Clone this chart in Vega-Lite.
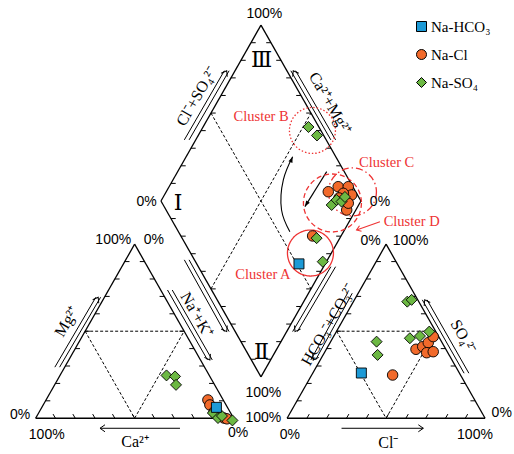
{
  "$schema": "https://vega.github.io/schema/vega-lite/v6.json",
  "width": 514,
  "height": 454,
  "padding": 0,
  "autosize": {"type": "none"},
  "background": "white",
  "config": {
    "view": {"stroke": null}
  },
  "resolve": {"scale": {"size": "independent", "strokeDash": "independent"}},
  "datasets": {
    "outlines": [
      {"x": 0, "y": 0, "x2": 100, "y2": 0},
      {"x": 0, "y": 0, "x2": 50, "y2": 86.6},
      {"x": 100, "y": 0, "x2": 50, "y2": 86.6},
      {"x": 127, "y": 0, "x2": 227, "y2": 0},
      {"x": 127, "y": 0, "x2": 177, "y2": 86.6},
      {"x": 227, "y": 0, "x2": 177, "y2": 86.6},
      {"x": 113.8, "y": 20.6, "x2": 63.3, "y2": 108.1},
      {"x": 63.3, "y": 108.1, "x2": 113.8, "y2": 195.6},
      {"x": 113.8, "y": 195.6, "x2": 164.3, "y2": 108.1},
      {"x": 164.3, "y": 108.1, "x2": 113.8, "y2": 20.6}
    ],
    "dashed": [
      {"x": 25, "y": 43.3, "x2": 75, "y2": 43.3},
      {"x": 25, "y": 43.3, "x2": 50, "y2": 0},
      {"x": 50, "y": 0, "x2": 75, "y2": 43.3},
      {"x": 152, "y": 43.3, "x2": 202, "y2": 43.3},
      {"x": 152, "y": 43.3, "x2": 177, "y2": 0},
      {"x": 177, "y": 0, "x2": 202, "y2": 43.3},
      {"x": 88.55, "y": 151.85, "x2": 139.05, "y2": 64.35},
      {"x": 88.55, "y": 64.35, "x2": 139.05, "y2": 151.85}
    ],
    "ticks": [
      {"x": 5, "y": 8.66, "d": "r"}, {"x": 10, "y": 17.32, "d": "r"}, {"x": 15, "y": 25.98, "d": "r"}, {"x": 20, "y": 34.64, "d": "r"}, {"x": 25, "y": 43.3, "d": "r"}, {"x": 30, "y": 51.96, "d": "r"}, {"x": 35, "y": 60.62, "d": "r"}, {"x": 40, "y": 69.28, "d": "r"}, {"x": 45, "y": 77.94, "d": "r"},
      {"x": 95, "y": 8.66, "d": "l"}, {"x": 90, "y": 17.32, "d": "l"}, {"x": 85, "y": 25.98, "d": "l"}, {"x": 80, "y": 34.64, "d": "l"}, {"x": 75, "y": 43.3, "d": "l"}, {"x": 70, "y": 51.96, "d": "l"}, {"x": 65, "y": 60.62, "d": "l"}, {"x": 60, "y": 69.28, "d": "l"}, {"x": 55, "y": 77.94, "d": "l"},
      {"x": 10, "y": 0, "d": "ul"}, {"x": 20, "y": 0, "d": "ul"}, {"x": 30, "y": 0, "d": "ul"}, {"x": 40, "y": 0, "d": "ul"}, {"x": 50, "y": 0, "d": "ul"}, {"x": 60, "y": 0, "d": "ul"}, {"x": 70, "y": 0, "d": "ul"}, {"x": 80, "y": 0, "d": "ul"}, {"x": 90, "y": 0, "d": "ul"},
      {"x": 132, "y": 8.66, "d": "r"}, {"x": 137, "y": 17.32, "d": "r"}, {"x": 142, "y": 25.98, "d": "r"}, {"x": 147, "y": 34.64, "d": "r"}, {"x": 152, "y": 43.3, "d": "r"}, {"x": 157, "y": 51.96, "d": "r"}, {"x": 162, "y": 60.62, "d": "r"}, {"x": 167, "y": 69.28, "d": "r"}, {"x": 172, "y": 77.94, "d": "r"},
      {"x": 222, "y": 8.66, "d": "l"}, {"x": 217, "y": 17.32, "d": "l"}, {"x": 212, "y": 25.98, "d": "l"}, {"x": 207, "y": 34.64, "d": "l"}, {"x": 202, "y": 43.3, "d": "l"}, {"x": 197, "y": 51.96, "d": "l"}, {"x": 192, "y": 60.62, "d": "l"}, {"x": 187, "y": 69.28, "d": "l"}, {"x": 182, "y": 77.94, "d": "l"},
      {"x": 137, "y": 0, "d": "ur"}, {"x": 147, "y": 0, "d": "ur"}, {"x": 157, "y": 0, "d": "ur"}, {"x": 167, "y": 0, "d": "ur"}, {"x": 177, "y": 0, "d": "ur"}, {"x": 187, "y": 0, "d": "ur"}, {"x": 197, "y": 0, "d": "ur"}, {"x": 207, "y": 0, "d": "ur"}, {"x": 217, "y": 0, "d": "ur"},
      {"x": 68.35, "y": 116.85, "d": "r"}, {"x": 73.4, "y": 125.6, "d": "r"}, {"x": 78.45, "y": 134.35, "d": "r"}, {"x": 83.5, "y": 143.1, "d": "r"}, {"x": 88.55, "y": 151.85, "d": "r"}, {"x": 93.6, "y": 160.6, "d": "r"}, {"x": 98.65, "y": 169.35, "d": "r"}, {"x": 103.7, "y": 178.1, "d": "r"}, {"x": 108.75, "y": 186.85, "d": "r"},
      {"x": 68.35, "y": 99.35, "d": "r"}, {"x": 73.4, "y": 90.6, "d": "r"}, {"x": 78.45, "y": 81.85, "d": "r"}, {"x": 83.5, "y": 73.1, "d": "r"}, {"x": 88.55, "y": 64.35, "d": "r"}, {"x": 93.6, "y": 55.6, "d": "r"}, {"x": 98.65, "y": 46.85, "d": "r"}, {"x": 103.7, "y": 38.1, "d": "r"}, {"x": 108.75, "y": 29.35, "d": "r"},
      {"x": 159.25, "y": 116.85, "d": "l"}, {"x": 154.2, "y": 125.6, "d": "l"}, {"x": 149.15, "y": 134.35, "d": "l"}, {"x": 144.1, "y": 143.1, "d": "l"}, {"x": 139.05, "y": 151.85, "d": "l"}, {"x": 134, "y": 160.6, "d": "l"}, {"x": 128.95, "y": 169.35, "d": "l"}, {"x": 123.9, "y": 178.1, "d": "l"}, {"x": 118.85, "y": 186.85, "d": "l"},
      {"x": 159.25, "y": 99.35, "d": "l"}, {"x": 154.2, "y": 90.6, "d": "l"}, {"x": 149.15, "y": 81.85, "d": "l"}, {"x": 144.1, "y": 73.1, "d": "l"}, {"x": 139.05, "y": 64.35, "d": "l"}, {"x": 134, "y": 55.6, "d": "l"}, {"x": 128.95, "y": 46.85, "d": "l"}, {"x": 123.9, "y": 38.1, "d": "l"}, {"x": 118.85, "y": 29.35, "d": "l"}
    ],
    "shafts": [
      {"x": 9.7, "y": 25.4, "x2": 30.4, "y2": 60.2}, {"x": 12.1, "y": 25.4, "x2": 32.8, "y2": 60.2},
      {"x": 66.6, "y": 63.8, "x2": 86.8, "y2": 29.0}, {"x": 69.0, "y": 63.8, "x2": 89.2, "y2": 29.0},
      {"x": 75.1, "y": 78.8, "x2": 95.3, "y2": 43.1}, {"x": 77.5, "y": 78.8, "x2": 97.7, "y2": 43.1},
      {"x": 75.1, "y": 138.5, "x2": 95.3, "y2": 172.9}, {"x": 77.5, "y": 138.5, "x2": 97.7, "y2": 172.9},
      {"x": 149.1, "y": 138.5, "x2": 128.9, "y2": 172.9}, {"x": 151.5, "y": 138.5, "x2": 131.3, "y2": 172.9},
      {"x": 149.1, "y": 75.4, "x2": 129.8, "y2": 43.1}, {"x": 151.5, "y": 75.4, "x2": 132.2, "y2": 43.1},
      {"x": 157.5, "y": 62.2, "x2": 139.0, "y2": 29.0}, {"x": 159.9, "y": 62.2, "x2": 141.4, "y2": 29.0},
      {"x": 216.4, "y": 22.4, "x2": 195.3, "y2": 58.9}, {"x": 218.8, "y": 22.4, "x2": 197.7, "y2": 58.9},
      {"x": 72.9, "y": -5, "x2": 32.5, "y2": -5},
      {"x": 154.5, "y": -5, "x2": 195.8, "y2": -5}
    ],
    "heads": [
      {"x": 31.6, "y": 60.2, "a": 30}, {"x": 88.0, "y": 29.0, "a": 150}, {"x": 96.5, "y": 43.1, "a": 150},
      {"x": 96.5, "y": 172.9, "a": 30}, {"x": 130.1, "y": 172.9, "a": 330}, {"x": 131.0, "y": 43.1, "a": 210},
      {"x": 140.2, "y": 29.0, "a": 210}, {"x": 196.5, "y": 58.9, "a": 330}, {"x": 32.5, "y": -5, "a": 270},
      {"x": 195.8, "y": -5, "a": 90}
    ],
    "curve": [
      {"i": 0, "x": 128.4, "y": 92.8}, {"i": 1, "x": 124.2, "y": 103.6}, {"i": 2, "x": 125.1, "y": 118.6}, {"i": 3, "x": 129.8, "y": 130.1}
    ],
    "straight": [{"x": 147.0, "y": 122.7, "x2": 136.0, "y2": 105.3}],
    "filledheads": [{"x": 129.8, "y": 130.1, "a": 22}, {"x": 136.0, "y": 105.3, "a": 212}],
    "circles": [
      {"c": "B", "x": 139.8, "y": 143.2, "s": 2116},
      {"c": "C", "x": 160.0, "y": 112.6, "s": 2304},
      {"c": "D", "x": 149.9, "y": 107.1, "s": 3364},
      {"c": "A", "x": 138.8, "y": 82.2, "s": 2116}
    ],
    "redline": [{"x": 173.9, "y": 97.8, "x2": 162.1, "y2": 93.7}],
    "redhead": [{"x": 162.1, "y": 93.7, "a": 250}],
    "clusterlabels": [
      {"x": 113.9, "y": 150.0, "text": "Cluster B"},
      {"x": 177.3, "y": 126.9, "text": "Cluster C"},
      {"x": 189.9, "y": 97.8, "text": "Cluster D"},
      {"x": 114.8, "y": 71.3, "text": "Cluster A"}
    ],
    "pct": [
      {"x": 115.5, "y": 201.1, "text": "100%"},
      {"x": 56.0, "y": 107.6, "text": "0%"},
      {"x": 173.9, "y": 107.6, "text": "0%"},
      {"x": 39.2, "y": 88.6, "text": "100%"},
      {"x": 59.7, "y": 88.6, "text": "0%"},
      {"x": -7.9, "y": 1.6, "text": "0%"},
      {"x": 5.6, "y": -8.3, "text": "100%"},
      {"x": 102.3, "y": -7.5, "text": "0%"},
      {"x": 115.0, "y": 12.4, "text": "100%"},
      {"x": 115.0, "y": 0, "text": "100%"},
      {"x": 169.2, "y": 88.4, "text": "0%"},
      {"x": 189.4, "y": 88.4, "text": "100%"},
      {"x": 235.4, "y": 2.5, "text": "0%"},
      {"x": 128.4, "y": -8.3, "text": "0%"},
      {"x": 221.9, "y": -8.3, "text": "100%"}
    ],
    "roman": [
      {"x": 114.1, "y": 178.3, "text": "Ⅲ"},
      {"x": 72.0, "y": 107.0, "text": "Ⅰ"},
      {"x": 114.1, "y": 33.1, "text": "Ⅱ"}
    ],
    "axislabels": [
      {"x": 15.7, "y": 48.1, "a": -60, "text": "Mg²⁺"},
      {"x": 81.3, "y": 51.4, "a": 60, "text": "Na⁺+K⁺"},
      {"x": 50.2, "y": -11.6, "a": 0, "text": "Ca²⁺"},
      {"x": 81.3, "y": 160.0, "a": -60, "text": "Cl⁻+SO₄²⁻"},
      {"x": 148.6, "y": 156.7, "a": 60, "text": "Ca²⁺+Mg²⁺"},
      {"x": 147.8, "y": 46.4, "a": -60, "text": "HCO₃⁻+CO₃²⁻"},
      {"x": 216.0, "y": 40.6, "a": 60, "text": "SO₄²⁻"},
      {"x": 178.1, "y": -12.4, "a": 0, "text": "Cl⁻"}
    ],
    "samples": [
      {"type": "Na-Cl", "x": 147.8, "y": 112.7}, {"type": "Na-Cl", "x": 152.8, "y": 115.2}, {"type": "Na-Cl", "x": 157.9, "y": 115.2}, {"type": "Na-Cl", "x": 159.6, "y": 111.1},
      {"type": "Na-Cl", "x": 155.4, "y": 111.9}, {"type": "Na-Cl", "x": 157.1, "y": 103.6}, {"type": "Na-Cl", "x": 157.9, "y": 107.0}, {"type": "Na-Cl", "x": 153.2, "y": 109.6},
      {"type": "Na-Cl", "x": 139.9, "y": 90.7},
      {"type": "Na-Cl", "x": 87.0, "y": 9.1}, {"type": "Na-Cl", "x": 88.0, "y": 6.6}, {"type": "Na-Cl", "x": 90.1, "y": 3.1}, {"type": "Na-Cl", "x": 92.6, "y": 1.1}, {"type": "Na-Cl", "x": 95.1, "y": 0.1}, {"type": "Na-Cl", "x": 96.6, "y": -0.3},
      {"type": "Na-Cl", "x": 192.1, "y": 34.3}, {"type": "Na-Cl", "x": 195.5, "y": 35.6}, {"type": "Na-Cl", "x": 198.3, "y": 37.6}, {"type": "Na-Cl", "x": 197.5, "y": 32.6}, {"type": "Na-Cl", "x": 200.8, "y": 33.1}, {"type": "Na-Cl", "x": 200.8, "y": 40.6}, {"type": "Na-Cl", "x": 180.3, "y": 21.5},
      {"type": "Na-SO₄", "x": 137.8, "y": 144.9}, {"type": "Na-SO₄", "x": 142.1, "y": 140.7},
      {"type": "Na-SO₄", "x": 149.5, "y": 106.1}, {"type": "Na-SO₄", "x": 152.0, "y": 108.6}, {"type": "Na-SO₄", "x": 154.5, "y": 107.8}, {"type": "Na-SO₄", "x": 156.2, "y": 110.1},
      {"type": "Na-SO₄", "x": 141.9, "y": 89.6}, {"type": "Na-SO₄", "x": 145.0, "y": 77.9},
      {"type": "Na-SO₄", "x": 66.1, "y": 21.3}, {"type": "Na-SO₄", "x": 70.4, "y": 20.8}, {"type": "Na-SO₄", "x": 70.9, "y": 16.6},
      {"type": "Na-SO₄", "x": 89.5, "y": 2.6}, {"type": "Na-SO₄", "x": 92.1, "y": 0.1}, {"type": "Na-SO₄", "x": 94.1, "y": 1.1}, {"type": "Na-SO₄", "x": 99.4, "y": -1.1},
      {"type": "Na-SO₄", "x": 187.7, "y": 58.0}, {"type": "Na-SO₄", "x": 189.9, "y": 58.9}, {"type": "Na-SO₄", "x": 172.2, "y": 38.1}, {"type": "Na-SO₄", "x": 172.7, "y": 31.5},
      {"type": "Na-SO₄", "x": 189.0, "y": 39.8}, {"type": "Na-SO₄", "x": 194.1, "y": 40.9}, {"type": "Na-SO₄", "x": 198.8, "y": 43.1},
      {"type": "Na-HCO₃", "x": 133.0, "y": 76.8}, {"type": "Na-HCO₃", "x": 91.3, "y": 5.4}, {"type": "Na-HCO₃", "x": 164.5, "y": 22.5}
    ]
  },
  "layer": [
    {
      "data": {"name": "outlines"},
      "mark": {"type": "rule", "color": "black", "strokeWidth": 1.3},
      "encoding": {
        "x": {"field": "x", "type": "quantitative", "scale": {"domain": [-18, 241.6], "nice": false, "zero": false}, "axis": null},
        "y": {"field": "y", "type": "quantitative", "scale": {"domain": [-17.8, 208.1], "nice": false, "zero": false}, "axis": null},
        "x2": {"field": "x2"},
        "y2": {"field": "y2"}
      }
    },
    {
      "data": {"name": "dashed"},
      "mark": {"type": "rule", "color": "black", "strokeWidth": 1, "strokeDash": [3, 2]},
      "encoding": {
        "x": {"field": "x", "type": "quantitative"},
        "y": {"field": "y", "type": "quantitative"},
        "x2": {"field": "x2"},
        "y2": {"field": "y2"}
      }
    },
    {
      "data": {"name": "ticks"},
      "transform": [{"filter": "datum.d === 'r'"}],
      "mark": {"type": "point", "filled": false, "color": "black", "strokeWidth": 1, "size": 90, "opacity": 1, "shape": "M0,0H1"},
      "encoding": {
        "x": {"field": "x", "type": "quantitative"},
        "y": {"field": "y", "type": "quantitative"}
      }
    },
    {
      "data": {"name": "ticks"},
      "transform": [{"filter": "datum.d === 'l'"}],
      "mark": {"type": "point", "filled": false, "color": "black", "strokeWidth": 1, "size": 90, "opacity": 1, "shape": "M0,0H-1"},
      "encoding": {
        "x": {"field": "x", "type": "quantitative"},
        "y": {"field": "y", "type": "quantitative"}
      }
    },
    {
      "data": {"name": "ticks"},
      "transform": [{"filter": "datum.d === 'ul'"}],
      "mark": {"type": "point", "filled": false, "color": "black", "strokeWidth": 1, "size": 90, "opacity": 1, "shape": "M0,0L-0.5,-0.87"},
      "encoding": {
        "x": {"field": "x", "type": "quantitative"},
        "y": {"field": "y", "type": "quantitative"}
      }
    },
    {
      "data": {"name": "ticks"},
      "transform": [{"filter": "datum.d === 'ur'"}],
      "mark": {"type": "point", "filled": false, "color": "black", "strokeWidth": 1, "size": 90, "opacity": 1, "shape": "M0,0L0.5,-0.87"},
      "encoding": {
        "x": {"field": "x", "type": "quantitative"},
        "y": {"field": "y", "type": "quantitative"}
      }
    },
    {
      "data": {"name": "shafts"},
      "mark": {"type": "rule", "color": "black", "strokeWidth": 1},
      "encoding": {
        "x": {"field": "x", "type": "quantitative"},
        "y": {"field": "y", "type": "quantitative"},
        "x2": {"field": "x2"},
        "y2": {"field": "y2"}
      }
    },
    {
      "data": {"name": "heads"},
      "mark": {"type": "point", "filled": false, "color": "black", "strokeWidth": 1, "size": 100, "opacity": 1, "shape": "M-0.7,1L0,0L0.7,1"},
      "encoding": {
        "x": {"field": "x", "type": "quantitative"},
        "y": {"field": "y", "type": "quantitative"},
        "angle": {"field": "a", "type": "quantitative", "scale": null}
      }
    },
    {
      "data": {"name": "curve"},
      "mark": {"type": "line", "color": "black", "strokeWidth": 1.1, "interpolate": "natural"},
      "encoding": {
        "x": {"field": "x", "type": "quantitative"},
        "y": {"field": "y", "type": "quantitative"},
        "order": {"field": "i"}
      }
    },
    {
      "data": {"name": "straight"},
      "mark": {"type": "rule", "color": "black", "strokeWidth": 1.1},
      "encoding": {
        "x": {"field": "x", "type": "quantitative"},
        "y": {"field": "y", "type": "quantitative"},
        "x2": {"field": "x2"},
        "y2": {"field": "y2"}
      }
    },
    {
      "data": {"name": "filledheads"},
      "mark": {"type": "point", "filled": true, "color": "black", "size": 60, "opacity": 1, "shape": "M0,0L-0.55,1.5L0.55,1.5Z"},
      "encoding": {
        "x": {"field": "x", "type": "quantitative"},
        "y": {"field": "y", "type": "quantitative"},
        "angle": {"field": "a", "type": "quantitative", "scale": null}
      }
    },
    {
      "data": {"name": "circles"},
      "mark": {"type": "point", "filled": false, "shape": "circle", "color": "#ee3333", "strokeWidth": 1.3, "opacity": 1},
      "encoding": {
        "x": {"field": "x", "type": "quantitative"},
        "y": {"field": "y", "type": "quantitative"},
        "size": {"field": "s", "type": "quantitative", "scale": null},
        "strokeDash": {"field": "c", "type": "nominal", "scale": {"domain": ["A", "B", "C", "D"], "range": [[1, 0], [1.5, 2], [7, 3, 1.5, 3], [5, 3]]}, "legend": null}
      }
    },
    {
      "data": {"name": "redline"},
      "mark": {"type": "rule", "color": "#ee3333", "strokeWidth": 1.1},
      "encoding": {
        "x": {"field": "x", "type": "quantitative"},
        "y": {"field": "y", "type": "quantitative"},
        "x2": {"field": "x2"},
        "y2": {"field": "y2"}
      }
    },
    {
      "data": {"name": "redhead"},
      "mark": {"type": "point", "filled": false, "color": "#ee3333", "strokeWidth": 1.1, "size": 70, "opacity": 1, "shape": "M-0.7,1L0,0L0.7,1"},
      "encoding": {
        "x": {"field": "x", "type": "quantitative"},
        "y": {"field": "y", "type": "quantitative"},
        "angle": {"field": "a", "type": "quantitative", "scale": null}
      }
    },
    {
      "data": {"name": "clusterlabels"},
      "mark": {"type": "text", "font": "Liberation Serif", "fontSize": 14.5, "color": "#ee3333", "align": "center", "baseline": "middle"},
      "encoding": {
        "x": {"field": "x", "type": "quantitative"},
        "y": {"field": "y", "type": "quantitative"},
        "text": {"field": "text"}
      }
    },
    {
      "data": {"name": "samples"},
      "mark": {"type": "point", "filled": true, "opacity": 1, "stroke": "black", "strokeWidth": 0.9},
      "encoding": {
        "x": {"field": "x", "type": "quantitative"},
        "y": {"field": "y", "type": "quantitative"},
        "color": {"field": "type", "type": "nominal", "scale": {"domain": ["Na-HCO₃", "Na-Cl", "Na-SO₄"], "range": ["#1d9ad6", "#f26a2b", "#6cb843"]},
          "legend": {"title": null, "orient": "none", "legendX": 414, "legendY": 19, "labelFont": "Liberation Serif", "labelFontSize": 15, "labelColor": "black", "symbolSize": 100, "symbolStrokeColor": "black", "symbolStrokeWidth": 1, "rowPadding": 12, "labelOffset": 2}},
        "shape": {"field": "type", "type": "nominal", "scale": {"domain": ["Na-HCO₃", "Na-Cl", "Na-SO₄"], "range": ["square", "circle", "diamond"]},
          "legend": {"title": null, "orient": "none", "legendX": 414, "legendY": 19, "labelFont": "Liberation Serif", "labelFontSize": 15, "labelColor": "black", "symbolSize": 100, "symbolStrokeColor": "black", "symbolStrokeWidth": 1, "rowPadding": 12, "labelOffset": 2}},
        "size": {"field": "type", "type": "nominal", "scale": {"domain": ["Na-HCO₃", "Na-Cl", "Na-SO₄"], "range": [100, 121, 165]}, "legend": null}
      }
    },
    {
      "data": {"name": "pct"},
      "mark": {"type": "text", "font": "Liberation Sans", "fontSize": 14, "color": "black", "align": "center", "baseline": "middle"},
      "encoding": {
        "x": {"field": "x", "type": "quantitative"},
        "y": {"field": "y", "type": "quantitative"},
        "text": {"field": "text"}
      }
    },
    {
      "data": {"name": "roman"},
      "mark": {"type": "text", "font": "DejaVu Serif", "fontSize": 22, "color": "black", "align": "center", "baseline": "middle"},
      "encoding": {
        "x": {"field": "x", "type": "quantitative"},
        "y": {"field": "y", "type": "quantitative"},
        "text": {"field": "text"}
      }
    },
    {
      "data": {"name": "axislabels"},
      "mark": {"type": "text", "font": "Liberation Serif", "fontSize": 16, "color": "black", "align": "center", "baseline": "middle"},
      "encoding": {
        "x": {"field": "x", "type": "quantitative"},
        "y": {"field": "y", "type": "quantitative"},
        "angle": {"field": "a", "type": "quantitative", "scale": null},
        "text": {"field": "text"}
      }
    }
  ]
}
